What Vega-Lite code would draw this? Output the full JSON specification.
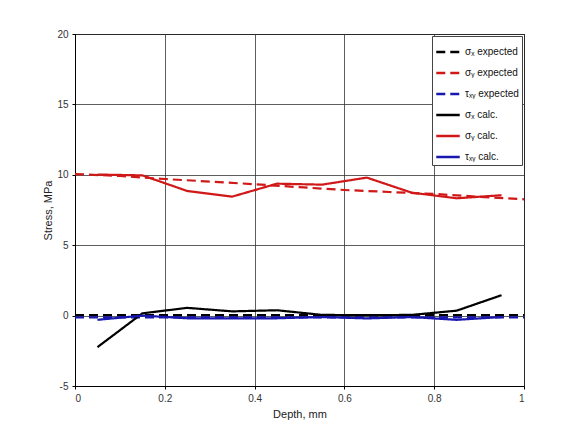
{
  "$schema": "https://vega.github.io/schema/vega-lite/v6.json",
  "width": 449,
  "height": 352,
  "autosize": {"type": "none"},
  "padding": {"left": 75, "top": 34, "right": 55, "bottom": 47},
  "background": "white",
  "config": {
    "font": "Liberation Sans",
    "view": {"stroke": "#000", "strokeWidth": 1},
    "axis": {
      "domainColor": "#000",
      "gridColor": "#333",
      "gridWidth": 0.8,
      "tickColor": "#000",
      "tickSize": 3,
      "labelFontSize": 10,
      "labelColor": "#333",
      "titleFontSize": 11,
      "titleFontWeight": "normal",
      "titleColor": "#222"
    }
  },
  "data": {
    "values": [
      {"depth": 0.0, "stress": 0.03, "series": "sx_exp"},
      {"depth": 1.0, "stress": 0.03, "series": "sx_exp"},
      {"depth": 0.0, "stress": 10.05, "series": "sy_exp"},
      {"depth": 0.1, "stress": 9.92, "series": "sy_exp"},
      {"depth": 0.2, "stress": 9.7, "series": "sy_exp"},
      {"depth": 0.3, "stress": 9.52, "series": "sy_exp"},
      {"depth": 0.4, "stress": 9.33, "series": "sy_exp"},
      {"depth": 0.5, "stress": 9.12, "series": "sy_exp"},
      {"depth": 0.6, "stress": 8.92, "series": "sy_exp"},
      {"depth": 0.7, "stress": 8.78, "series": "sy_exp"},
      {"depth": 0.8, "stress": 8.64, "series": "sy_exp"},
      {"depth": 0.9, "stress": 8.44, "series": "sy_exp"},
      {"depth": 1.0, "stress": 8.26, "series": "sy_exp"},
      {"depth": 0.0, "stress": -0.12, "series": "txy_exp"},
      {"depth": 1.0, "stress": -0.12, "series": "txy_exp"},
      {"depth": 0.05, "stress": -2.24, "series": "sx_calc"},
      {"depth": 0.15, "stress": 0.16, "series": "sx_calc"},
      {"depth": 0.25, "stress": 0.55, "series": "sx_calc"},
      {"depth": 0.35, "stress": 0.3, "series": "sx_calc"},
      {"depth": 0.45, "stress": 0.38, "series": "sx_calc"},
      {"depth": 0.55, "stress": 0.05, "series": "sx_calc"},
      {"depth": 0.65, "stress": 0.03, "series": "sx_calc"},
      {"depth": 0.75, "stress": 0.05, "series": "sx_calc"},
      {"depth": 0.85, "stress": 0.35, "series": "sx_calc"},
      {"depth": 0.95, "stress": 1.45, "series": "sx_calc"},
      {"depth": 0.05, "stress": 10.02, "series": "sy_calc"},
      {"depth": 0.15, "stress": 9.96, "series": "sy_calc"},
      {"depth": 0.25, "stress": 8.85, "series": "sy_calc"},
      {"depth": 0.35, "stress": 8.45, "series": "sy_calc"},
      {"depth": 0.45, "stress": 9.37, "series": "sy_calc"},
      {"depth": 0.55, "stress": 9.3, "series": "sy_calc"},
      {"depth": 0.65, "stress": 9.8, "series": "sy_calc"},
      {"depth": 0.75, "stress": 8.73, "series": "sy_calc"},
      {"depth": 0.85, "stress": 8.33, "series": "sy_calc"},
      {"depth": 0.95, "stress": 8.55, "series": "sy_calc"},
      {"depth": 0.05, "stress": -0.3, "series": "txy_calc"},
      {"depth": 0.15, "stress": 0.0, "series": "txy_calc"},
      {"depth": 0.25, "stress": -0.19, "series": "txy_calc"},
      {"depth": 0.35, "stress": -0.19, "series": "txy_calc"},
      {"depth": 0.45, "stress": -0.19, "series": "txy_calc"},
      {"depth": 0.55, "stress": -0.1, "series": "txy_calc"},
      {"depth": 0.65, "stress": -0.2, "series": "txy_calc"},
      {"depth": 0.75, "stress": -0.1, "series": "txy_calc"},
      {"depth": 0.85, "stress": -0.3, "series": "txy_calc"},
      {"depth": 0.95, "stress": -0.1, "series": "txy_calc"}
    ]
  },
  "mark": {"type": "line", "strokeWidth": 2.2, "clip": true},
  "encoding": {
    "x": {
      "field": "depth",
      "type": "quantitative",
      "scale": {"domain": [0, 1], "nice": false, "zero": false},
      "axis": {
        "title": "Depth, mm",
        "values": [0, 0.2, 0.4, 0.6, 0.8, 1],
        "labelExpr": "'' + datum.value",
        "labelPadding": 4,
        "titlePadding": 5
      }
    },
    "y": {
      "field": "stress",
      "type": "quantitative",
      "scale": {"domain": [-5, 20], "nice": false, "zero": false},
      "axis": {
        "title": "Stress, MPa",
        "values": [-5, 0, 5, 10, 15, 20],
        "labelExpr": "'' + datum.value",
        "labelPadding": 4,
        "titlePadding": 3
      }
    },
    "detail": {"field": "series"},
    "color": {
      "field": "series",
      "type": "nominal",
      "scale": {
        "domain": ["sx_exp", "sy_exp", "txy_exp", "sx_calc", "sy_calc", "txy_calc"],
        "range": ["#000000", "#d01818", "#1818b0", "#000000", "#d01818", "#1818b0"]
      },
      "legend": {
        "title": null,
        "orient": "top-right",
        "offset": 2,
        "fillColor": "white",
        "strokeColor": "#444",
        "padding": 3,
        "symbolType": "stroke",
        "symbolStrokeWidth": 2.5,
        "symbolSize": 550,
        "labelFontSize": 10,
        "labelColor": "#111",
        "rowPadding": 3,
        "labelOffset": 4,
        "labelExpr": "{'sx_exp': 'σₓ expected', 'sy_exp': 'σᵧ expected', 'txy_exp': 'τₓᵧ expected', 'sx_calc': 'σₓ calc.', 'sy_calc': 'σᵧ calc.', 'txy_calc': 'τₓᵧ calc.'}[datum.label]"
      }
    },
    "strokeDash": {
      "field": "series",
      "type": "nominal",
      "scale": {
        "domain": ["sx_exp", "sy_exp", "txy_exp", "sx_calc", "sy_calc", "txy_calc"],
        "range": [[9, 5], [9, 5], [9, 5], [1, 0], [1, 0], [1, 0]]
      },
      "legend": null
    }
  }
}
